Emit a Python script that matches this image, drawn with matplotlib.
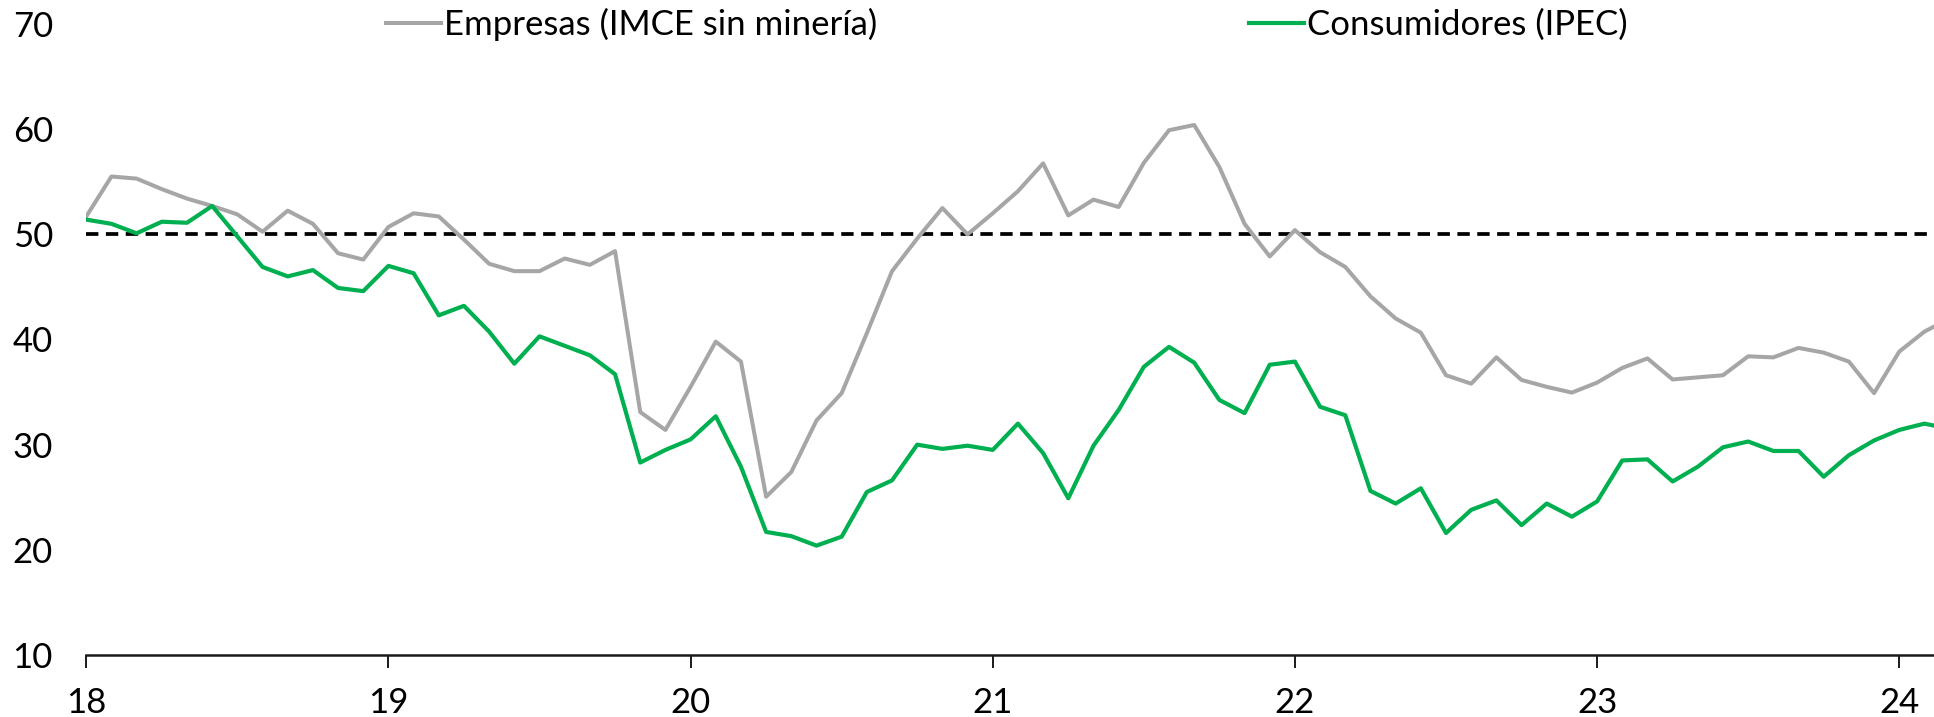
import matplotlib
matplotlib.use("Agg")
import matplotlib.pyplot as plt

# Monthly data, Jan 2018 onward (last point is clipped at the right edge)
EMPRESAS = [
    51.7, 55.5, 55.3, 54.3, 53.4, 52.7, 51.9, 50.25, 52.25, 51.0, 48.2, 47.6,
    50.7, 52.0, 51.7, 49.5, 47.2, 46.5, 46.5, 47.7, 47.1, 48.4, 33.1, 31.4,
    35.5, 39.8, 37.9, 25.05, 27.4, 32.3, 34.9, 40.6, 46.5, 49.6, 52.5, 50.0,
    52.0, 54.1, 56.75, 51.8, 53.3, 52.6, 56.8, 59.9, 60.4, 56.4, 51.0, 47.9,
    50.4, 48.3, 46.9, 44.1, 42.0, 40.65, 36.6, 35.8, 38.3, 36.15, 35.5, 34.95,
    35.9, 37.3, 38.2, 36.2, 36.4, 36.6, 38.4, 38.3, 39.2, 38.75, 37.9, 34.9,
    38.85, 40.75, 42.0,
]

CONSUMIDORES = [
    51.4, 51.0, 50.1, 51.2, 51.1, 52.7, 49.8, 46.9, 46.0, 46.6, 44.9, 44.6,
    47.0, 46.3, 42.3, 43.2, 40.75, 37.7, 40.3, 39.4, 38.5, 36.7, 28.3, 29.5,
    30.5, 32.7, 27.9, 21.7, 21.3, 20.4, 21.25, 25.5, 26.6, 30.0, 29.6, 29.9,
    29.5, 32.0, 29.2, 24.9, 29.9, 33.3, 37.4, 39.3, 37.8, 34.25, 33.0, 37.6,
    37.9, 33.6, 32.8, 25.6, 24.4, 25.85, 21.6, 23.8, 24.7, 22.35, 24.4, 23.15,
    24.6, 28.5, 28.6, 26.5, 27.9, 29.75, 30.3, 29.4, 29.4, 26.95, 29.0, 30.4,
    31.4, 32.0, 31.5,
]

YEAR_TICKS = [18, 19, 20, 21, 22, 23, 24]
Y_TICKS = [10, 20, 30, 40, 50, 60, 70]
NEUTRAL = 50

GREY = "#A6A6A6"
GREEN = "#00B050"
FONT_SIZE = 25

plt.rcParams["font.family"] = ["Lato", "DejaVu Sans"]

fig = plt.figure(figsize=(19.34, 7.17), dpi=100)
ax = fig.add_axes([0.0446, 0.0865, 0.9554, 0.880])

x = [18 + i / 12 for i in range(len(EMPRESAS))]

ax.plot(x, EMPRESAS, color=GREY, lw=2.9, label="Empresas (IMCE sin minería)")
ax.plot(x, CONSUMIDORES, color=GREEN, lw=3.0, label="Consumidores (IPEC)")
ax.axhline(NEUTRAL, color="black", lw=2.7, dashes=(3.3, 2.0), zorder=1)

ax.set_xlim(18, 18 + 73.38 / 12)
ax.set_ylim(10, 70)
ax.set_xticks(YEAR_TICKS)
ax.set_xticklabels([str(t) for t in YEAR_TICKS])
ax.set_yticks(Y_TICKS)
ax.set_yticklabels([str(t) for t in Y_TICKS])

for side in ["top", "right", "left"]:
    ax.spines[side].set_visible(False)
ax.spines["bottom"].set_linewidth(1.8)
ax.spines["bottom"].set_color("#1a1a1a")

ax.tick_params(axis="x", direction="out", length=9, width=1.4,
               pad=14, labelsize=FONT_SIZE, color="#1a1a1a")
ax.tick_params(axis="y", length=0, pad=24, labelsize=FONT_SIZE)

fig.legend(loc="center left", bbox_to_anchor=(386 / 1934, 1 - 24.7 / 717),
           ncol=2, frameon=False, fontsize=FONT_SIZE, handlelength=1.58,
           handletextpad=0.1, columnspacing=10.7, borderpad=0,
           borderaxespad=0)

fig.savefig("out.png", dpi=100)
